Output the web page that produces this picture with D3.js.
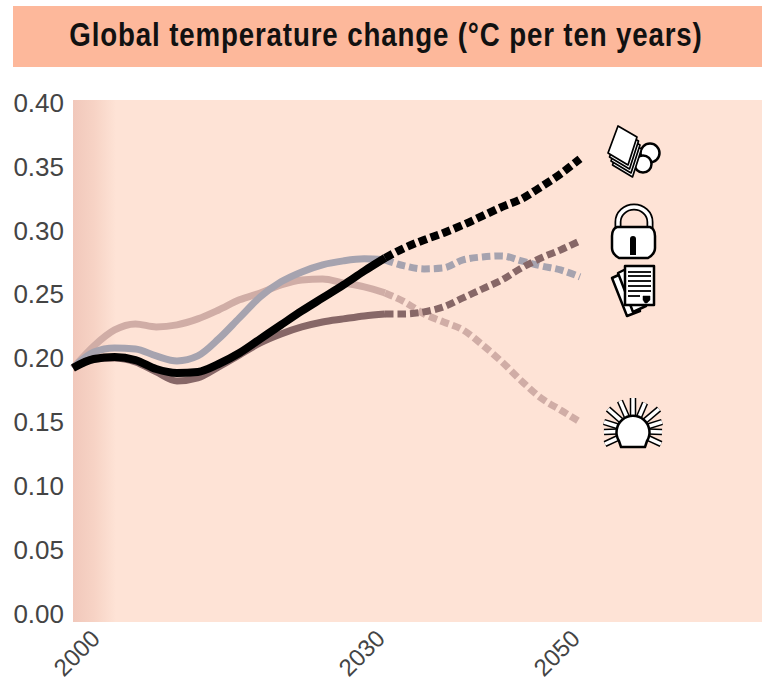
<!DOCTYPE html>
<html>
<head>
<meta charset="utf-8">
<title>Global temperature change</title>
<script src="https://cdn.jsdelivr.net/npm/d3@7"></script>
<style>
  html, body { margin: 0; padding: 0; background: #fff; }
  svg { display: block; }
</style>
</head>
<body>
<div id="chart"></div>
<script>
// values
const years = [2000, 2002, 2004, 2006, 2008, 2010, 2012, 2014, 2016, 2018, 2020, 2022, 2024,
  2026, 2028, 2030, 2032, 2034, 2036, 2038, 2040, 2042, 2044, 2046, 2048, 2050];
const sunValues = [.1926, .2098, .2224, .2271, .2247, .2263, .2310, .2380, .2459, .2513, .2576, .2615, .2623,
  .2592, .2560, .2513, .2443, .2349, .2286, .2224, .2106, .1973, .1824, .1691, .1597, .1503];
const docValues = [.1926, .2051, .2083, .2075, .2020, .1981, .2020, .2153, .2318, .2482, .2600, .2678, .2733,
  .2764, .2780, .2772, .2725, .2701, .2709, .2772, .2795, .2803, .2764, .2725, .2693, .2639];
const lockValues = [.1926, .1996, .2004, .1973, .1895, .1824, .1848, .1934, .2028, .2122, .2192, .2247, .2286,
  .2310, .2333, .2349, .2349, .2365, .2404, .2474, .2545, .2615, .2709, .2787, .2850, .2921];
const paperValues = [.1926, .1996, .2012, .1988, .1918, .1887, .1895, .1957, .2043, .2153, .2263, .2372, .2474,
  .2576, .2685, .2787, .2866, .2928, .2983, .3046, .3116, .3187, .3249, .3343, .3445, .3563];
const yTicks = [0, .05, .10, .15, .20, .25, .30, .35, .40];
const xTicks = [2000, 2030, 2050];
const splitYear = 2030;
const titleText = "Global temperature change (°C per ten years)";

const width = 762, height = 681;
const bgColor = "#fee3d6";

const svg = d3.select("#chart").append("svg")
  .attr("width", width)
  .attr("height", height);

// left edge fade of the plot
const defs = svg.append("defs");
const fade = defs.append("linearGradient").attr("id", "fade");
fade.append("stop").attr("offset", "0").attr("stop-color", "#f1c8bb");
fade.append("stop").attr("offset", "0.5").attr("stop-color", "#f7d3c5");
fade.append("stop").attr("offset", "1").attr("stop-color", bgColor);

// title band
svg.append("rect").attr("x", 13).attr("y", 6).attr("width", 749).attr("height", 61).attr("fill", "#fdb89b");
// no narrow font here, so squeeze the bold one
svg.append("text")
  .attr("transform", "translate(386,46) scale(0.84,1)")
  .attr("text-anchor", "middle")
  .attr("font-family", "'Liberation Sans', sans-serif")
  .attr("font-weight", "bold")
  .attr("font-size", 33)
  .attr("letter-spacing", 1)
  .attr("fill", "#111")
  .text(titleText);

// plot background
svg.append("rect").attr("x", 73).attr("y", 100).attr("width", 689).attr("height", 522).attr("fill", bgColor);
svg.append("rect").attr("x", 73).attr("y", 100).attr("width", 43).attr("height", 522).attr("fill", "url(#fade)");

// scales, the years are not quite even on the picture so piecewise
const x = d3.scaleLinear().domain([2000, 2030, 2050]).range([73, 385, 580]);
const y = d3.scaleLinear().domain([0, .4]).range([614, 103]);
const xLabel = d3.scaleLinear().domain([2000, 2030, 2050]).range([95, 380, 575]);

// axes
const yAxis = svg.append("g")
  .attr("transform", "translate(64,0)")
  .call(d3.axisLeft(y).tickValues(yTicks).tickFormat(d3.format(".2f")).tickSize(0).tickPadding(0));
yAxis.select(".domain").remove();
yAxis.selectAll("text")
  .attr("font-family", "'Liberation Sans', sans-serif")
  .attr("font-size", 26)
  .attr("fill", "#444");

const xAxis = svg.append("g")
  .attr("transform", "translate(0,634)")
  .call(d3.axisBottom(xLabel).tickValues(xTicks).tickFormat(d3.format("d")).tickSize(0).tickPadding(0));
xAxis.select(".domain").remove();
xAxis.selectAll("text")
  .attr("font-family", "'Liberation Sans', sans-serif")
  .attr("font-size", 24)
  .attr("fill", "#444")
  .attr("text-anchor", "end")
  .attr("y", 0)
  .attr("dy", "0.35em")
  .attr("transform", "rotate(-45)");

// lines, solid up to 2030 and dashed after
const line = d3.line()
  .x(d => x(d.year))
  .y(d => y(d.value))
  .curve(d3.curveMonotoneX);

const series = [
  { values: sunValues, color: "#d0ada6", sw: 7 },
  { values: docValues, color: "#a6a3af", sw: 7 },
  { values: lockValues, color: "#876767", sw: 7 },
  { values: paperValues, color: "#000000", sw: 8 }
];

series.forEach(s => {
  const pts = years.map((year, i) => ({ year: year, value: s.values[i] }));
  svg.append("path")
    .attr("d", line(pts.filter(d => d.year <= splitYear)))
    .attr("fill", "none").attr("stroke", s.color).attr("stroke-width", s.sw);
  svg.append("path")
    .attr("d", line(pts.filter(d => d.year >= splitYear)))
    .attr("fill", "none").attr("stroke", s.color).attr("stroke-width", s.sw)
    .attr("stroke-dasharray", "8.5,4");
});

// icons at the line ends
function shape(g, d, fill, sw) {
  return g.append("path").attr("d", d)
    .attr("fill", fill).attr("stroke", "#000").attr("stroke-width", sw).attr("stroke-linejoin", "round");
}

function paperIcon(g) {
  g.append("circle").attr("cx", 650).attr("cy", 153).attr("r", 9.5).attr("fill", "#fff").attr("stroke", "#000").attr("stroke-width", 2.5);
  g.append("circle").attr("cx", 643).attr("cy", 164).attr("r", 8.5).attr("fill", "#fff").attr("stroke", "#000").attr("stroke-width", 2.5);
  [3, 2, 1, 0].forEach(k => {
    g.append("path")
      .attr("d", "M618,126L637,137L628,165L608,153Z")
      .attr("transform", `translate(${k * 1.5},${k * 4})`)
      .attr("fill", "#fff").attr("stroke", "#000").attr("stroke-width", 1.7).attr("stroke-linejoin", "round");
  });
}

function lockIcon(g) {
  const hoop = "M618,228V222A16,15 0 0 1 650,222V228";
  g.append("path").attr("d", hoop).attr("fill", "none").attr("stroke", "#000").attr("stroke-width", 7);
  g.append("path").attr("d", hoop).attr("fill", "none").attr("stroke", "#fff").attr("stroke-width", 3.5);
  shape(g, "M617,227H650Q655,229 655,236V248Q655,254 648,258H619Q612,254 612,248V236Q612,229 617,227Z", "#fff", 2.5);
  g.append("circle").attr("cx", 633).attr("cy", 239).attr("r", 3).attr("fill", "#000");
  g.append("rect").attr("x", 630).attr("y", 239).attr("width", 6).attr("height", 16).attr("fill", "#000");
}

function docIcon(g) {
  shape(g, "M612,278L623,273L640,311L627,316Z", "#fff", 2.5);
  shape(g, "M618,273L628,268L646,306L633,312Z", "#fff", 2.5);
  shape(g, "M625,266H654V305H625Z", "#fff", 2.5);
  [272, 276, 281, 286, 291].forEach(ly => {
    g.append("line").attr("x1", 628).attr("x2", 651).attr("y1", ly).attr("y2", ly)
      .attr("stroke", "#000").attr("stroke-width", 1.8);
  });
  g.append("line").attr("x1", 628).attr("x2", 640).attr("y1", 296).attr("y2", 296)
    .attr("stroke", "#000").attr("stroke-width", 1.8);
  shape(g, "M643,296H650V300L647,303H645L643,300Z", "#000", 0.5);
}

function sunIcon(g) {
  const cx = 633, cy = 431;
  const tips = [[633, 398], [620, 401], [608, 409], [604, 422], [604, 432], [605, 444],
    [645, 403], [659, 409], [662, 422], [662, 432], [661, 444]];
  tips.forEach(t => {
    const dx = t[0] - cx, dy = t[1] - cy, len = Math.hypot(dx, dy);
    const x0 = cx + dx / len * 15, y0 = cy + dy / len * 15;
    g.append("line").attr("x1", x0).attr("y1", y0).attr("x2", t[0]).attr("y2", t[1])
      .attr("stroke", "#000").attr("stroke-width", 6.5);
    g.append("line").attr("x1", x0).attr("y1", y0).attr("x2", t[0]).attr("y2", t[1])
      .attr("stroke", "#fff").attr("stroke-width", 3.5);
  });
  shape(g, "M621,447L619,441A16.5,16.5 0 1 1 647,441L645,447Z", "#fff", 2.5);
}

const icons = svg.append("g");
paperIcon(icons);
lockIcon(icons);
docIcon(icons);
sunIcon(icons);
</script>
</body>
</html>
